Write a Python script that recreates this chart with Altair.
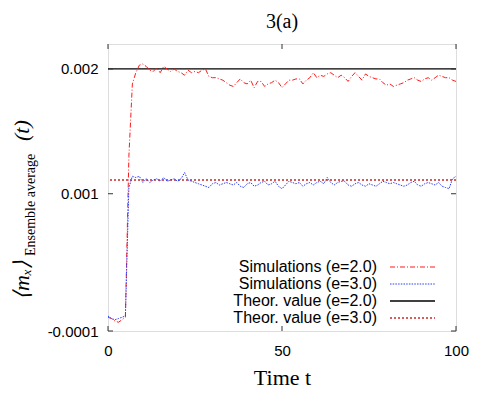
import altair as alt
import pandas as pd

# ---- data (values in units of 1e-3) ----
t_values = list(range(0, 101))
sim_e2 = [0.01, 0.00, -0.02, -0.03, -0.01, 0.01, 1.30, 1.88, 1.97, 2.03,
          2.04, 2.02, 1.99, 1.98, 2.01, 1.97, 2.02, 2.00, 1.98, 2.00,
          1.98, 1.97, 1.95, 1.99, 1.97, 1.98, 1.97, 1.99, 2.00, 1.94,
          1.93, 1.93, 1.92, 1.91, 1.89, 1.87, 1.86, 1.89, 1.92, 1.89,
          1.88, 1.91, 1.85, 1.90, 1.90, 1.86, 1.88, 1.89, 1.91, 1.89,
          1.85, 1.88, 1.91, 1.91, 1.92, 1.92, 1.88, 1.91, 1.93, 1.97,
          1.93, 1.95, 1.94, 1.96, 1.97, 1.95, 1.93, 1.95, 1.93, 1.90,
          1.94, 1.97, 1.94, 1.91, 1.96, 1.94, 1.93, 1.92, 1.92, 1.89,
          1.87, 1.88, 1.86, 1.87, 1.88, 1.89, 1.91, 1.92, 1.93, 1.91,
          1.90, 1.92, 1.93, 1.91, 1.93, 1.95, 1.94, 1.93, 1.93, 1.91,
          1.90]
sim_e3 = [0.02, 0.00, -0.01, 0.00, 0.01, 0.02, 1.05, 1.14, 1.13, 1.14,
          1.09, 1.12, 1.09, 1.11, 1.12, 1.10, 1.13, 1.10, 1.11, 1.12,
          1.10, 1.12, 1.17, 1.11, 1.10, 1.09, 1.08, 1.07, 1.06, 1.05,
          1.08, 1.09, 1.07, 1.08, 1.09, 1.08, 1.07, 1.09, 1.06, 1.05,
          1.08, 1.09, 1.06, 1.07, 1.09, 1.10, 1.07, 1.08, 1.10, 1.06,
          1.04, 1.07, 1.10, 1.09, 1.08, 1.09, 1.06, 1.08, 1.09, 1.07,
          1.09, 1.10, 1.08, 1.13, 1.09, 1.07, 1.09, 1.10, 1.10, 1.07,
          1.06, 1.08, 1.09, 1.07, 1.06, 1.08, 1.07, 1.06, 1.08, 1.10,
          1.09, 1.08, 1.09, 1.08, 1.07, 1.06, 1.07, 1.09, 1.10, 1.07,
          1.06, 1.08, 1.09, 1.08, 1.07, 1.09, 1.06, 1.05, 1.04, 1.12,
          1.14]
theor_e2 = 0.002
theor_e3 = 0.00111
x_ticks = [0, 50, 100]
y_ticks = [-0.0001, 0.001, 0.002]
legend_labels = ["Simulations (e=2.0)", "Simulations (e=3.0)",
                 "Theor. value (e=2.0)", "Theor. value (e=3.0)"]

W, H = 348, 287
SERIF = "Liberation Serif"
SANS = "Liberation Sans"

df2 = pd.DataFrame({"t": t_values, "m": [v * 1e-3 for v in sim_e2]})
df3 = pd.DataFrame({"t": t_values, "m": [v * 1e-3 for v in sim_e3]})

xscale = alt.Scale(domain=[0, 100], nice=False, zero=False)
yscale = alt.Scale(domain=[-0.0001, 0.0022], nice=False, zero=False)

xaxis = alt.Axis(values=x_ticks, ticks=False, domain=False, grid=False,
                 labelFont=SANS, labelFontSize=15, labelColor="black",
                 labelPadding=12, labelFlush=False, title="Time t",
                 titleFont=SERIF, titleFontSize=22, titleFontWeight="normal",
                 titleColor="black", titlePadding=9)
yaxis = alt.Axis(values=y_ticks, ticks=False, domain=False, grid=False,
                 labelFont=SANS, labelFontSize=15, labelColor="black",
                 labelPadding=10, labelFlush=False,
                 labelExpr="toString(datum.value)", title=None)

line2 = alt.Chart(df2).mark_line(color="#ff1a1a", strokeWidth=1,
                                 strokeDash=[5, 2, 1, 2], clip=True).encode(
    x=alt.X("t:Q", scale=xscale, axis=xaxis),
    y=alt.Y("m:Q", scale=yscale, axis=yaxis))
line3 = alt.Chart(df3).mark_line(color="#2a3cff", strokeWidth=1,
                                 strokeDash=[1.5, 1.2], clip=True).encode(
    x="t:Q", y="m:Q")

th2 = alt.Chart(pd.DataFrame({"v": [theor_e2]})).mark_rule(
    color="black", strokeWidth=1.3).encode(y="v:Q")
th3 = alt.Chart(pd.DataFrame({"v": [theor_e3]})).mark_rule(
    color="#c42a2a", strokeWidth=1.4, strokeDash=[2, 2]).encode(y="v:Q")

# inward ticks
xt = pd.DataFrame({"x": x_ticks})
yt = pd.DataFrame({"y": y_ticks})
tick_color = "#333333"
xt_bot = alt.Chart(xt).mark_rule(color=tick_color).encode(
    x="x:Q", y=alt.value(H), y2=alt.value(H - 5))
xt_top = alt.Chart(xt).mark_rule(color=tick_color).encode(
    x="x:Q", y=alt.value(0), y2=alt.value(5))
yt_left = alt.Chart(yt).mark_rule(color=tick_color).encode(
    y="y:Q", x=alt.value(0), x2=alt.value(5))
yt_right = alt.Chart(yt).mark_rule(color=tick_color).encode(
    y="y:Q", x=alt.value(W), x2=alt.value(W - 5))

# y-axis title pieces (rotated)
def ytext(txt, x, y, size, style="normal"):
    return alt.Chart(pd.DataFrame({"a": [0]})).mark_text(
        text=txt, angle=270, align="left", baseline="middle", font=SERIF,
        fontSize=size, fontStyle=style, color="black").encode(
        x=alt.value(x), y=alt.value(y))

ytitle = [ytext("⟨mₓ⟩", -86, 256, 22, "italic"),
          ytext("Ensemble average", -77, 212, 14),
          ytext("(t)", -86, 97, 22, "italic")]

# manual legend
leg_y = [223, 240, 257, 274]
leg_styles = [dict(color="#ff1a1a", strokeDash=[5, 2, 1, 2], strokeWidth=1),
              dict(color="#2a3cff", strokeDash=[1.5, 1.2], strokeWidth=1),
              dict(color="black", strokeWidth=1.3),
              dict(color="#c42a2a", strokeDash=[2, 2], strokeWidth=1.4)]
legend_layers = []
for lab, yy, st in zip(legend_labels, leg_y, leg_styles):
    legend_layers.append(alt.Chart(pd.DataFrame({"label": [lab]})).mark_text(
        align="right", baseline="middle", font=SANS, fontSize=16,
        color="black").encode(text="label:N", x=alt.value(269), y=alt.value(yy)))
    legend_layers.append(alt.Chart(pd.DataFrame({"label": [lab]})).mark_rule(
        **st).encode(x=alt.value(282), x2=alt.value(327), y=alt.value(yy)))

chart = alt.layer(th2, th3, line2, line3, xt_bot, xt_top, yt_left, yt_right,
                  *ytitle, *legend_layers).properties(
    width=W, height=H,
    title=alt.TitleParams("3(a)", font=SERIF, fontSize=20, fontWeight="normal",
                          color="black", offset=12),
    autosize=alt.AutoSizeParams(type="none"),
    padding={"left": 100, "top": 36, "right": 27, "bottom": 60},
).configure_view(stroke="#444444", strokeWidth=1).configure(background="white")

chart.save("out.html", embed_options={"renderer": "svg", "actions": False})
